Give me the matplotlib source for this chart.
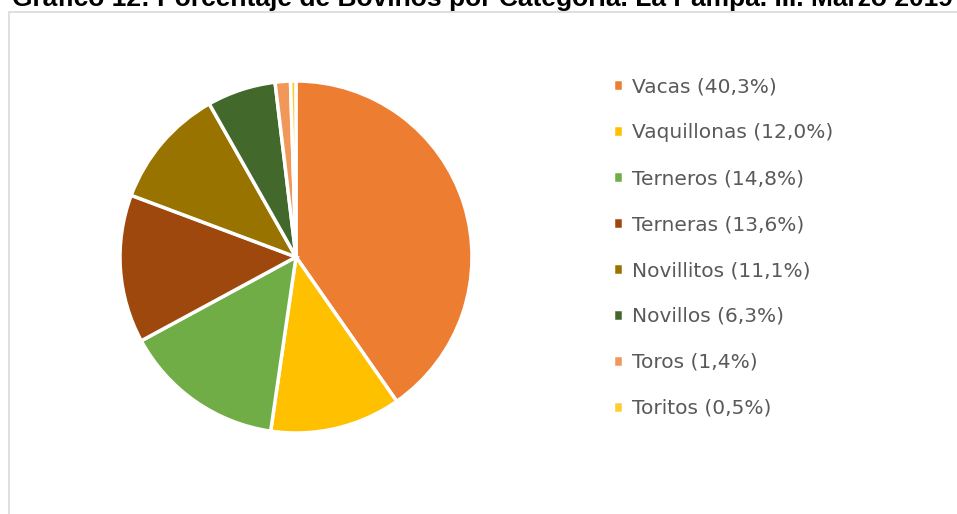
import matplotlib
matplotlib.use("Agg")
import matplotlib.pyplot as plt
from matplotlib.patches import Rectangle

categorias = ["Vacas", "Vaquillonas", "Terneros", "Terneras",
              "Novillitos", "Novillos", "Toros", "Toritos"]
porcentajes = [40.3, 12.0, 14.8, 13.6, 11.1, 6.3, 1.4, 0.5]
colores = ["#ED7D31", "#FFC000", "#70AD47", "#9E480E",
           "#997300", "#43682B", "#F1975A", "#FFCD33"]

W, H = 957, 514
fig = plt.figure(figsize=(W / 100, H / 100), dpi=100)
fig.patch.set_facecolor("white")

# marco del gráfico
fig.patches.append(Rectangle((9 / W, -0.1), 1.2, 1 - 12 / H + 0.1,
                             transform=fig.transFigure, fill=False,
                             edgecolor="#D9D9D9", linewidth=1.2))

# título (cortado arriba como en la captura)
fig.text(12 / W, 1 - 6 / H,
         "Gráfico 12: Porcentaje de Bovinos por Categoría. La Pampa. III. Marzo 2019",
         fontsize=19, fontweight="bold", family="Liberation Sans",
         color="black", va="baseline", ha="left")

cx, cy, r = 296, 257, 176
ax = fig.add_axes([(cx - r) / W, 1 - (cy + r) / H, 2 * r / W, 2 * r / H])
wedges, _ = ax.pie(porcentajes, colors=colores, startangle=90, counterclock=False,
                   radius=1, wedgeprops=dict(edgecolor="white", linewidth=2.5))
ax.set_xlim(-1.0, 1.0)
ax.set_ylim(-1.0, 1.0)
ax.set_aspect("equal")
ax.axis("off")

etiquetas = [f"{c} ({str(p).replace('.', ',')}%)" for c, p in zip(categorias, porcentajes)]
fig.legend(wedges, etiquetas, loc="upper left",
           bbox_to_anchor=(603 / W, 1 - 67 / H), frameon=False,
           prop=dict(family="DejaVu Sans", size=14.5),
           labelcolor="#595959", handlelength=0.5, handleheight=0.5,
           handletextpad=0.45, labelspacing=1.34, borderpad=0)

fig.savefig("out.png", dpi=100)
